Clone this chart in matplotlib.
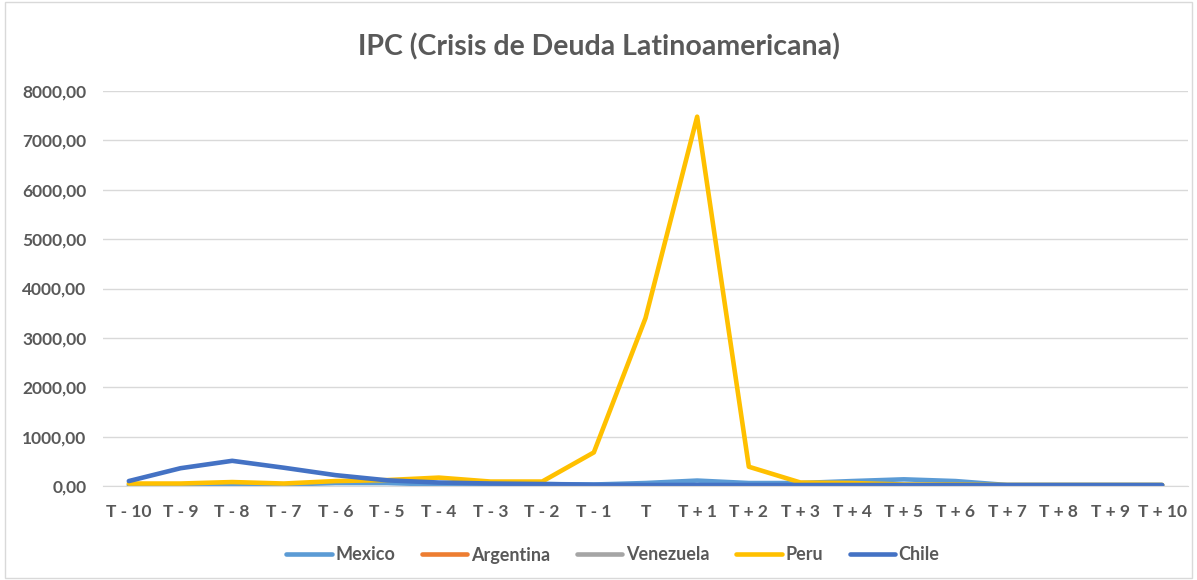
import numpy as np
import matplotlib
matplotlib.use("Agg")
import matplotlib.pyplot as plt
from matplotlib.patches import Rectangle
from matplotlib.ticker import FuncFormatter

plt.rcParams['font.family'] = ['Lato', 'DejaVu Sans']

periods = ["T - 10", "T - 9", "T - 8", "T - 7", "T - 6", "T - 5", "T - 4", "T - 3", "T - 2", "T - 1",
           "T", "T + 1", "T + 2", "T + 3", "T + 4", "T + 5", "T + 6", "T + 7", "T + 8", "T + 9", "T + 10"]

nan = np.nan
mexico = [20, 20, 25, 30, 60, 60, 30, 30, 40, 30, 60, 110, 60, 60, 100, 135, 100, 20, 20, 20, 20]
argentina = [nan] * 21
venezuela = [nan] * 21
peru = [50, 50, 80, 50, 100, 120, 170, 90, 90, 680, 3400, 7480, 390, 70, 60, 30, 30, 20, 20, 20, 20]
chile = [100, 360, 510, 370, 220, 115, 70, 50, 40, 25, 20, 20, 20, 20, 20, 20, 20, 20, 20, 20, 20]

series = [("Mexico", mexico, "#5B9BD5"),
          ("Argentina", argentina, "#ED7D31"),
          ("Venezuela", venezuela, "#A5A5A5"),
          ("Peru", peru, "#FFC000"),
          ("Chile", chile, "#4472C4")]

fig = plt.figure(figsize=(11.97, 5.8), dpi=100)
ax = fig.add_axes([103 / 1197, 1 - 486 / 580, (1188 - 103) / 1197, (486 - 91) / 580])

x = np.arange(len(periods))
for name, vals, col in series:
    ax.plot(x, vals, color=col, lw=3.3, label=name, solid_joinstyle="round", solid_capstyle="round")

ax.set_xlim(-0.5, len(periods) - 0.5)
ax.set_ylim(0, 8000)
ax.set_yticks(np.arange(0, 8001, 1000))
ax.yaxis.set_major_formatter(FuncFormatter(lambda v, p: f"{v:.2f}".replace(".", ",")))
ax.set_xticks(x)
ax.set_xticklabels(periods)
ax.grid(axis="y", color="#D9D9D9", lw=1)
ax.set_axisbelow(True)
for s in ax.spines.values():
    s.set_visible(False)
ax.spines["bottom"].set_visible(True)
ax.spines["bottom"].set_color("#D9D9D9")
ax.tick_params(length=0, colors="#595959", labelsize=12.5)
ax.tick_params(axis="x", pad=13)
ax.tick_params(axis="y", pad=12)
for lab in ax.get_xticklabels() + ax.get_yticklabels():
    lab.set_fontweight("bold")

fig.text(0.5, 1 - 47 / 580, "IPC (Crisis de Deuda Latinoamericana)", ha="center", va="center",
         fontsize=20.5, fontweight="bold", color="#595959")

leg = fig.legend(loc="center", bbox_to_anchor=(613 / 1197, 1 - 555 / 580), ncol=5, frameon=False,
                 fontsize=13, handlelength=2.5, columnspacing=1.5, handletextpad=0.2)
for t in leg.get_texts():
    t.set_color("#595959")
    t.set_fontweight("bold")

fig.patches.append(Rectangle((0.004, 0.004), 0.992, 0.992, transform=fig.transFigure,
                             fill=False, edgecolor="#D9D9D9", lw=1))

fig.savefig("out.png", dpi=100)
